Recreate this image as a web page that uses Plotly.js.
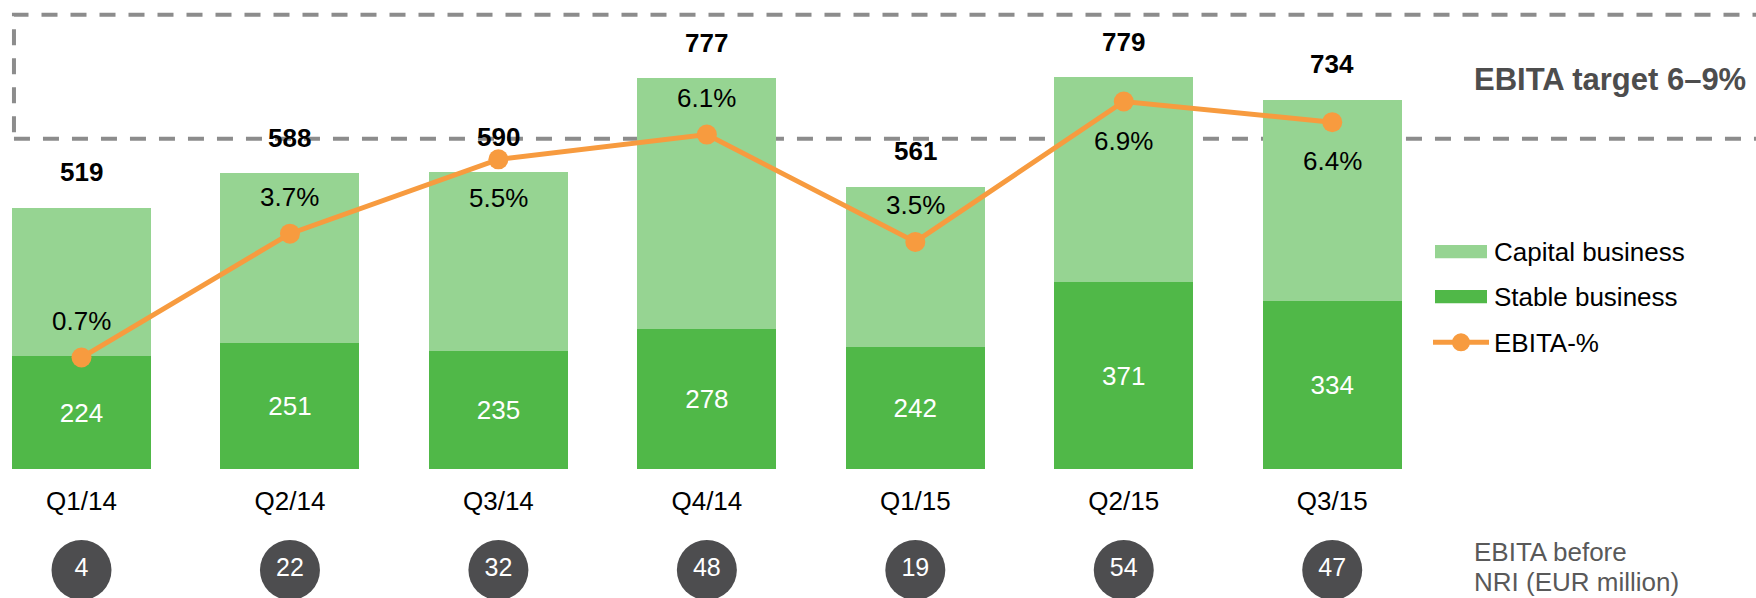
<!DOCTYPE html>
<html>
<head>
<meta charset="utf-8">
<script src="https://cdn.plot.ly/plotly-3.0.1.min.js"></script>
<style>
  html, body { margin: 0; padding: 0; background: #ffffff; }
  #chart { width: 1756px; height: 598px; }
</style>
</head>
<body>
<div id="chart"></div>
<script>
// ---------- data ----------
const quarters = ['Q1/14', 'Q2/14', 'Q3/14', 'Q4/14', 'Q1/15', 'Q2/15', 'Q3/15'];
const stableBusiness = [224, 251, 235, 278, 242, 371, 334];
const capitalBusiness = [295, 337, 355, 499, 319, 408, 400];
const totalSales = [519, 588, 590, 777, 561, 779, 734];
const ebitaPct = [0.7, 3.7, 5.5, 6.1, 3.5, 6.9, 6.4];
const ebitaBeforeNri = [4, 22, 32, 48, 19, 54, 47];
const targetRange = [6, 9];

// ---------- styling ----------
const W = 1756, H = 598;
const FONT = 'Liberation Sans, Arial, Helvetica, sans-serif';
const capitalColor = '#96d492';
const stableColor = '#50b848';
const orange = '#f79b3f';
const dashGray = '#8c8c8c';
const circleGray = '#4d4d4f';
const PX = x => x / W;
const PY = y => 1 - y / H;

// where each % label sits relative to its marker
const pctLabelSide = ['above', 'above', 'below', 'above', 'above', 'below', 'below'];

const traces = [
  {
    type: 'bar', name: 'Stable business', x: quarters, y: stableBusiness,
    marker: { color: stableColor }, width: 0.667,
    text: stableBusiness.map(String), textposition: 'inside', insidetextanchor: 'middle',
    textangle: 0, constraintext: 'none',
    textfont: { family: FONT, size: 26, color: '#ffffff' },
    hoverinfo: 'x+y'
  },
  {
    type: 'bar', name: 'Capital business', x: quarters, y: capitalBusiness,
    marker: { color: capitalColor }, width: 0.667,
    hoverinfo: 'x+y'
  },
  {
    type: 'scatter', mode: 'lines+markers', name: 'EBITA-%', x: quarters, y: ebitaPct,
    yaxis: 'y2', line: { color: orange, width: 5 },
    marker: { color: orange, size: 20 }, cliponaxis: false
  },
  {
    type: 'scatter', mode: 'markers+text', name: 'EBITA before NRI (EUR million)',
    x: quarters, y: ebitaBeforeNri.map(() => 0), yaxis: 'y3',
    marker: { color: circleGray, size: 60 },
    text: ebitaBeforeNri.map(String), textposition: 'middle center',
    textfont: { family: FONT, size: 25, color: '#ffffff' }, cliponaxis: false
  }
];

const annotations = [];
// totals above bars
quarters.forEach((q, i) => {
  annotations.push({
    x: q, y: totalSales[i], xref: 'x', yref: 'y', text: '<b>' + totalSales[i] + '</b>',
    showarrow: false, yanchor: 'bottom', yshift: 18.5,
    font: { family: FONT, size: 26, color: '#000000' }
  });
});
// EBITA-% labels
quarters.forEach((q, i) => {
  const above = pctLabelSide[i] === 'above';
  annotations.push({
    x: q, y: ebitaPct[i], xref: 'x', yref: 'y2', text: ebitaPct[i].toFixed(1) + '%',
    showarrow: false, yanchor: above ? 'bottom' : 'top', yshift: above ? 19.5 : -22,
    font: { family: FONT, size: 26, color: '#000000' }
  });
});
// target label
annotations.push({
  xref: 'paper', yref: 'paper', x: PX(1471.7), y: PY(79.2), xanchor: 'left', yanchor: 'middle',
  text: '<b>EBITA target 6–9%</b>', showarrow: false,
  font: { family: FONT, size: 31, color: '#4d4d4d' }
});
// legend texts
const legendRows = [
  { label: 'Capital business', cy: 251.5 },
  { label: 'Stable business', cy: 297 },
  { label: 'EBITA-%', cy: 342.5 }
];
legendRows.forEach(r => {
  annotations.push({
    xref: 'paper', yref: 'paper', x: PX(1491.7), y: PY(r.cy), xanchor: 'left', yanchor: 'middle',
    text: r.label, showarrow: false, font: { family: FONT, size: 26, color: '#000000' }
  });
});
// circle row caption
annotations.push({
  xref: 'paper', yref: 'paper', x: PX(1471.7), y: PY(552), xanchor: 'left', yanchor: 'middle',
  text: 'EBITA before', showarrow: false, font: { family: FONT, size: 26, color: '#595959' }
});
annotations.push({
  xref: 'paper', yref: 'paper', x: PX(1471.7), y: PY(582), xanchor: 'left', yanchor: 'middle',
  text: 'NRI (EUR million)', showarrow: false, font: { family: FONT, size: 26, color: '#595959' }
});

const shapes = [
  // target band box (6–9 %)
  {
    type: 'rect', xref: 'x', yref: 'y2', x0: -0.324, x1: 9.5, y0: targetRange[0], y1: targetRange[1],
    line: { color: dashGray, width: 4, dash: '16px,13px' }, fillcolor: 'rgba(0,0,0,0)', layer: 'below'
  },
  // legend swatches
  {
    type: 'rect', xref: 'paper', yref: 'paper', x0: PX(1435), x1: PX(1487), y0: PY(258.3), y1: PY(245),
    fillcolor: capitalColor, line: { width: 0 }
  },
  {
    type: 'rect', xref: 'paper', yref: 'paper', x0: PX(1435), x1: PX(1487), y0: PY(303.3), y1: PY(290),
    fillcolor: stableColor, line: { width: 0 }
  },
  {
    type: 'line', xref: 'paper', yref: 'paper', x0: PX(1433), x1: PX(1489), y0: PY(342.3), y1: PY(342.3),
    line: { color: orange, width: 5 }
  },
  {
    type: 'circle', xref: 'paper', yref: 'paper', x0: PX(1452), x1: PX(1470), y0: PY(351.3), y1: PY(333.3),
    fillcolor: orange, line: { width: 0 }
  }
];

const layout = {
  width: W, height: H,
  margin: { l: 0, r: 0, t: 0, b: 0, pad: 0 },
  paper_bgcolor: '#ffffff', plot_bgcolor: 'rgba(0,0,0,0)',
  showlegend: false, barmode: 'stack',
  font: { family: FONT, size: 26, color: '#000000' },
  xaxis: {
    type: 'category', range: [-0.391, 8.033], showgrid: false, zeroline: false, showline: false,
    ticks: '', tickfont: { family: FONT, size: 26, color: '#000000' }, ticklabelstandoff: 14,
    fixedrange: true
  },
  yaxis: { domain: [0.2157, 1], range: [0, 932.4], visible: false, fixedrange: true },
  yaxis2: { overlaying: 'y', range: [-2.0, 9.359], visible: false, fixedrange: true },
  yaxis3: { domain: [0, 0.0936], range: [-1, 1], visible: false, anchor: 'x', fixedrange: true },
  annotations: annotations,
  shapes: shapes
};

Plotly.newPlot('chart', traces, layout, { displayModeBar: false, staticPlot: true });
</script>
</body>
</html>
